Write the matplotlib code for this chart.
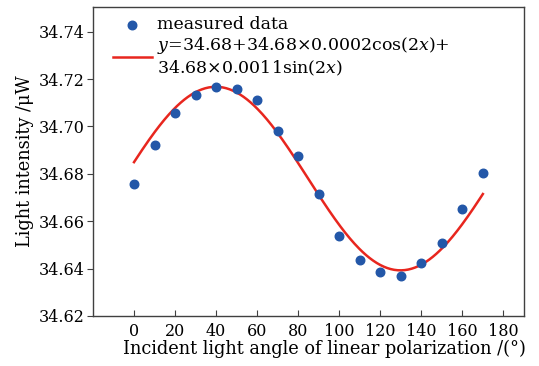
import numpy as np
import matplotlib
matplotlib.use("Agg")
import matplotlib.pyplot as plt

# data
angles = [0, 10, 20, 30, 40, 50, 60, 70, 80, 90, 100, 110, 120, 130, 140, 150, 160, 170]
intensity = [34.6755, 34.6923, 34.7057, 34.7135, 34.7165, 34.7159, 34.7110, 34.6980, 34.6877,
             34.6713, 34.6536, 34.6437, 34.6386, 34.6367, 34.6422, 34.6508, 34.6652, 34.6802]
# fit parameters (as shown in legend)
fit_offset = 34.678
fit_scale = 34.68
fit_cos = 0.0002
fit_sin = 0.0011
xticks = [0, 20, 40, 60, 80, 100, 120, 140, 160, 180]
yticks = [34.62, 34.64, 34.66, 34.68, 34.70, 34.72, 34.74]

plt.rcParams['font.family'] = 'DejaVu Serif'
plt.rcParams['mathtext.fontset'] = 'dejavuserif'
plt.rcParams['font.size'] = 11.5

fig = plt.figure(figsize=(5.39, 3.66), dpi=100)
ax = fig.add_axes([0.1725, 0.137, 0.972 - 0.1725, 0.981 - 0.137])

xf = np.linspace(0, 170, 300)
yf = fit_offset + fit_scale * fit_cos * np.cos(np.radians(2 * xf)) + fit_scale * fit_sin * np.sin(np.radians(2 * xf))

ax.scatter(angles, intensity, s=38, color='#2357a8', zorder=3, label='measured data')
ax.plot(xf, yf, color='#e8261e', lw=1.8, zorder=2,
        label='$y$=34.68+34.68×0.0002cos(2$x$)+\n34.68×0.0011sin(2$x$)')

ax.set_xlim(-20, 190)
ax.set_ylim(34.62, 34.7505)
ax.set_xticks(xticks)
ax.set_yticks(yticks)
ax.set_yticklabels([f"{v:.2f}" for v in yticks])
ax.tick_params(axis='x', direction='in', length=4, color='#404040', pad=5, labelsize=11.5)
ax.tick_params(axis='y', direction='out', length=4, color='#404040', pad=2, labelsize=11.5)
for s in ax.spines.values():
    s.set_color('#404040')
    s.set_linewidth(1.0)

ax.set_xlabel('Incident light angle of linear polarization /(°)', labelpad=0, fontsize=12.8)
ax.xaxis.label.set_x(0.537)
ax.set_ylabel('Light intensity /μW', labelpad=3, fontsize=12.8)

leg = ax.legend(loc='upper left', bbox_to_anchor=(0.022, 1.003), frameon=False,
                handlelength=2.25, handletextpad=0.3, labelspacing=0.1,
                borderaxespad=0.2, fontsize=12.5)

fig.savefig('out.png', dpi=100)
